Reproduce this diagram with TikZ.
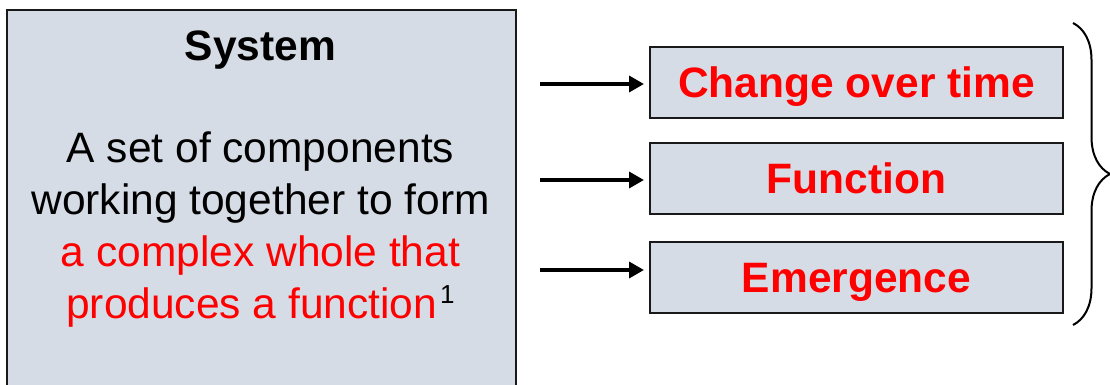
\documentclass[tikz,border=0pt]{standalone}
\usepackage{fontspec}
\setmainfont{Liberation Sans}
\usetikzlibrary{arrows.meta, decorations.pathreplacing}
\definecolor{boxgray}{HTML}{D6DCE5}

\begin{document}
\begin{tikzpicture}[x=1pt, y=-1pt, font=\fontsize{42.5}{52}\selectfont,
	panel/.style={draw=black!90, line width=2pt, fill=boxgray, inner sep=0pt},
	itembox/.style={panel, minimum width=413pt, minimum height=71pt, text=red,
		text height=30pt, text depth=0pt, font=\fontsize{42.5}{52}\selectfont\bfseries},
	feed/.style={line width=3.5pt, -{Triangle[length=15pt, width=16pt]}, shorten >=5pt}]
	\useasboundingbox (0,0) rectangle (1110,385);
	%system box
	\node[panel, anchor=north west, minimum width=509pt, minimum height=400pt] (system) at (6,9) {};
	\node[anchor=base, font=\fontsize{42.5}{52}\selectfont\bfseries] (title) at (260.5,61) {System};
	\node[align=center] (desc) at (260.5,230) {A set of components\\
		working together to form\\
		\textcolor{red}{a complex whole that}\\
		\textcolor{red}{produces a function}\kern3pt{\fontsize{26}{26}\selectfont\raisebox{15pt}{1}}};
	%properties
	\node[itembox] (change) at (856.5,83) {Change over time};
	\node[itembox] (func) at (856.5,178) {Function};
	\node[itembox] (emerge) at (856.5,277.5) {Emergence};
	%arrows
	\coordinate (a1) at (540,84);
	\coordinate (a2) at (540,180);
	\coordinate (a3) at (540,270);
	\draw[feed] (a1) -- (a1 -| change.west);
	\draw[feed] (a2) -- (a2 -| func.west);
	\draw[feed] (a3) -- (a3 -| emerge.west);
	%brace
	\coordinate (btop) at (1073,23);
	\coordinate (bbot) at (1073,325);
	\draw[line width=2pt, decorate, decoration={brace, amplitude=37pt}] (btop) -- (bbot);
\end{tikzpicture}
\end{document}
